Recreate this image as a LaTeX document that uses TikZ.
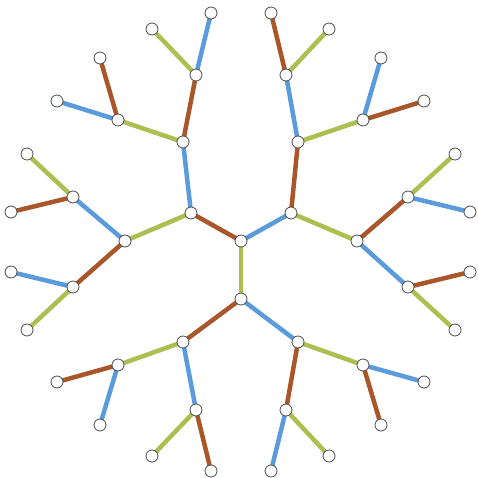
\documentclass[tikz,border=0pt]{standalone}
\definecolor{eb}{HTML}{5A9BDC}
\definecolor{er}{HTML}{A9562A}
\definecolor{eg}{HTML}{ADBF50}
\begin{document}
\begin{tikzpicture}[x=1pt,y=-1pt,
  vtx/.style={circle,draw=black!70,fill=white,line width=0.8pt,minimum size=12pt,inner sep=0pt},
  B/.style={draw=eb,line width=4.5pt},
  R/.style={draw=er,line width=4.5pt},
  G/.style={draw=eg,line width=4.5pt}]
\useasboundingbox (0,0) rectangle (477,478);
\foreach \n/\x/\y in {c1/241/241,c2/241/299,
 a/191/213,a1/183/142,a11/196/75,a111/211/13,a112/152/29,a12/118/120,a121/100/58,a122/57/101,
 a2/125/241,a21/73/197,a211/27/154,a212/11/212,a22/73/287,a221/11/272,a222/27/330,
 b/291/213,b1/298/142,b11/286/75,b111/271/13,b112/329/29,b12/363/120,b121/381/58,b122/424/101,
 b2/357/241,b21/408/197,b211/455/154,b212/470/212,b22/408/287,b221/470/272,b222/455/330,
 d/183/342,d1/118/365,d11/57/382,d12/100/425,d2/196/410,d21/152/456,d22/211/471,
 e/298/342,e1/286/410,e11/271/471,e12/329/456,e2/363/365,e21/381/425,e22/424/382}
 {\coordinate (\n) at (\x,\y);}
\foreach \p/\q/\s in {c1/c2/G,c1/a/R,c1/b/B,c2/d/R,c2/e/B,
 a/a1/B,a/a2/G,a1/a11/R,a1/a12/G,a11/a111/B,a11/a112/G,a12/a121/R,a12/a122/B,
 a2/a21/B,a2/a22/R,a21/a211/G,a21/a212/R,a22/a221/B,a22/a222/G,
 b/b1/R,b/b2/G,b1/b11/B,b1/b12/G,b11/b111/R,b11/b112/G,b12/b121/B,b12/b122/R,
 b2/b21/R,b2/b22/B,b21/b211/G,b21/b212/B,b22/b221/R,b22/b222/G,
 d/d1/G,d/d2/B,d1/d11/R,d1/d12/B,d2/d21/G,d2/d22/R,
 e/e1/R,e/e2/G,e1/e11/B,e1/e12/G,e2/e21/R,e2/e22/B}
 {\draw[\s] (\p) -- (\q);}
\foreach \n in {c1,c2,a,a1,a11,a111,a112,a12,a121,a122,a2,a21,a211,a212,a22,a221,a222,
 b,b1,b11,b111,b112,b12,b121,b122,b2,b21,b211,b212,b22,b221,b222,
 d,d1,d11,d12,d2,d21,d22,e,e1,e11,e12,e2,e21,e22}
 {\node[vtx] at (\n) {};}
\end{tikzpicture}
\end{document}
